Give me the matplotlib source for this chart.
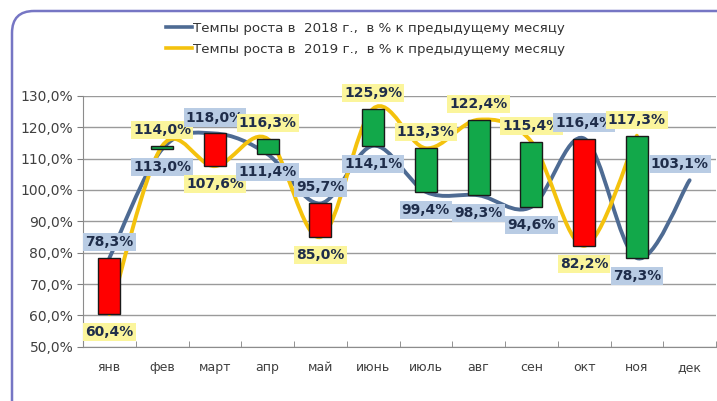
import matplotlib.pyplot as plt
import numpy as np
from matplotlib.path import Path
from matplotlib.patches import PathPatch, FancyBboxPatch

months = ['янв', 'фев', 'март', 'апр', 'май', 'июнь', 'июль', 'авг', 'сен', 'окт', 'ноя', 'дек']
rate_2018 = [78.3, 113.0, 118.0, 111.4, 95.7, 114.1, 99.4, 98.3, 94.6, 116.4, 78.3, 103.1]
rate_2019 = [60.4, 114.0, 107.6, 116.3, 85.0, 125.9, 113.3, 122.4, 115.4, 82.2, 117.3]

label_2018 = 'Темпы роста в  2018 г.,  в % к предыдущему месяцу'
label_2019 = 'Темпы роста в  2019 г.,  в % к предыдущему месяцу'

c2018 = '#4e6b93'
c2019 = '#f4c20d'
box2018 = '#b9cce4'
box2019 = '#fbf59c'
txt = '#1f2d4a'


def smooth_path(xs, ys):
    # Catmull-Rom style bezier, like Excel's smoothed line
    pts = np.column_stack([xs, ys]).astype(float)
    n = len(pts)
    verts = [pts[0]]
    codes = [Path.MOVETO]
    for i in range(n - 1):
        p0 = pts[i - 1] if i > 0 else pts[i]
        p1 = pts[i]
        p2 = pts[i + 1]
        p3 = pts[i + 2] if i + 2 < n else pts[i + 1]
        c1 = p1 + (p2 - p0) / 6.0
        c2 = p2 - (p3 - p1) / 6.0
        verts += [c1, c2, p2]
        codes += [Path.CURVE4] * 3
    return Path(verts, codes)


fig = plt.figure(figsize=(7.17, 4.01), dpi=100)
fig.patch.set_facecolor('white')

# rounded chart frame (runs off the right and bottom edges)
frame = FancyBboxPatch((0.12, -0.3), 7.3, 4.2, boxstyle='round,pad=0,rounding_size=0.22',
                       transform=fig.dpi_scale_trans, fill=False, edgecolor='#7676c4',
                       linewidth=1.8)
fig.patches.append(frame)

ax = fig.add_axes([83 / 717, 0.135, 633 / 717, 0.626])
x = np.arange(len(months))

ax.set_xlim(-0.5, len(months) - 0.5)
ax.set_ylim(50, 130)
ax.set_yticks(np.arange(50, 131, 10))
ax.set_yticklabels([f'{v:.1f}%'.replace('.', ',') for v in np.arange(50, 131, 10)],
                   fontsize=10, color='#404040')
ax.set_xticks(x)
ax.set_xticklabels(months, fontsize=9, color='#404040')
ax.set_xticks(np.arange(-0.5, len(months)), minor=True)
ax.tick_params(axis='x', which='major', length=0, pad=10)
ax.tick_params(axis='x', which='minor', length=4, direction='in', color='#808080')
ax.tick_params(axis='y', length=4, color='#808080', pad=3)
ax.grid(axis='y', color='#9a9a9a', linewidth=1)
ax.set_axisbelow(True)
for s in ['top', 'right']:
    ax.spines[s].set_visible(False)
for s in ['left', 'bottom']:
    ax.spines[s].set_color('#8c8c8c')

p18 = PathPatch(smooth_path(x, rate_2018), fill=False, edgecolor=c2018, linewidth=2.8, zorder=2,
                capstyle='round')
p19 = PathPatch(smooth_path(x[:len(rate_2019)], rate_2019), fill=False, edgecolor=c2019,
                linewidth=2.8, zorder=2, capstyle='round')
ax.add_patch(p18)
ax.add_patch(p19)

# up/down bars between the two years
for i, v19 in enumerate(rate_2019):
    v18 = rate_2018[i]
    color = '#12a84a' if v19 > v18 else '#ff0000'
    ax.bar(x[i], abs(v19 - v18), bottom=min(v18, v19), width=0.42, color=color,
           edgecolor='#1a1a1a', linewidth=1, zorder=3)

# legend entries
ax.plot([], [], color=c2018, linewidth=2.6, label=label_2018)
ax.plot([], [], color=c2019, linewidth=2.6, label=label_2019)
fig.legend(loc='upper center', bbox_to_anchor=(0.51, 0.975), frameon=False, fontsize=9.6,
           handlelength=1.9, handletextpad=0.1, labelspacing=0.6, labelcolor='#333333')


def put_label(xi, val, above, face, dx=0):
    off = 11.5 if above else -13
    ax.annotate(f'{val:.1f}%'.replace('.', ','), (xi, val), xytext=(dx, off),
                textcoords='offset points', ha='center', va='center', fontsize=10,
                fontweight='bold', color=txt, zorder=5, annotation_clip=False,
                bbox=dict(boxstyle='square,pad=0.15', facecolor=face, edgecolor='none'))


for i, v18 in enumerate(rate_2018):
    if i < len(rate_2019):
        v19 = rate_2019[i]
        put_label(x[i], v18, v18 > v19, box2018)
        put_label(x[i], v19, v19 > v18, box2019)
    else:
        # last month sits at the right edge, nudge it inwards
        put_label(x[i], v18, True, box2018, dx=-7)

fig.savefig('out.png', dpi=100)
